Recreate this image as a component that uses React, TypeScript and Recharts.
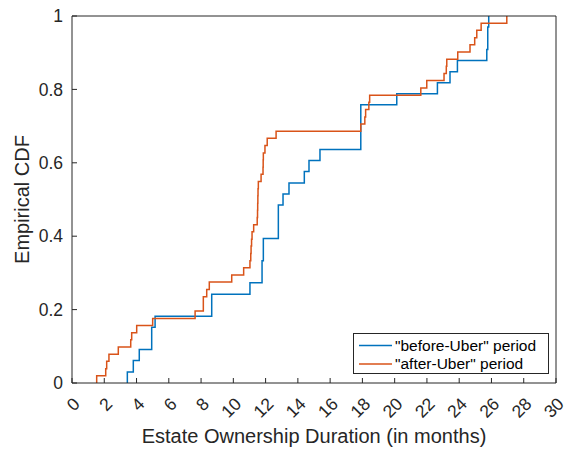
import React from "react";
import { LineChart, Line, XAxis, YAxis, Legend } from "recharts";

const INK = "#262626";
const FONT = "'Liberation Sans', Arial, Helvetica, sans-serif";
const BLUE = "#0072BD";
const ORANGE = "#D95319";

const X_TICKS = [0, 2, 4, 6, 8, 10, 12, 14, 16, 18, 20, 22, 24, 26, 28, 30];
const Y_TICKS = [0, 0.2, 0.4, 0.6, 0.8, 1];
const Y_TICK_LABELS = ["0", "0.2", "0.4", "0.6", "0.8", "1"];

// jump locations (months) and the CDF level reached at each jump
const BEFORE_X = [
  3.43, 3.8, 4.17, 4.94, 5.15, 8.66, 11.03, 11.78, 11.86, 12.79, 13.08, 13.45,
  14.4, 14.69, 15.37, 17.9, 20.13, 22.65, 23.43, 23.89, 25.71, 25.77, 25.83,
];
const BEFORE_CDF = [
  0.03, 0.061, 0.091, 0.152, 0.182, 0.242, 0.273, 0.333, 0.394, 0.485, 0.515, 0.545,
  0.576, 0.606, 0.636, 0.758, 0.788, 0.818, 0.848, 0.879, 0.909, 0.97, 1,
];

const AFTER_X = [
  1.53, 2.09, 2.15, 2.29, 2.87, 3.64, 3.7, 4.01, 5.0, 7.63, 8.14, 8.35, 8.51,
  9.9, 10.64, 11.03, 11.08, 11.1, 11.13, 11.16, 11.26, 11.48, 11.5, 11.51, 11.52,
  11.53, 11.55, 11.72, 11.84, 11.85, 11.86, 11.96, 12.1, 12.65, 17.9, 18.15, 18.2,
  18.4, 18.45, 21.62, 21.99, 23.06, 23.2, 23.23, 23.91, 24.67, 24.96, 25.09, 25.36,
  26.95,
];
const AFTER_CDF = [
  0.02, 0.039, 0.059, 0.078, 0.098, 0.118, 0.137, 0.157, 0.176, 0.196, 0.235, 0.255,
  0.275, 0.294, 0.314, 0.333, 0.353, 0.373, 0.392, 0.412, 0.431, 0.451, 0.471, 0.49,
  0.51, 0.529, 0.549, 0.569, 0.588, 0.608, 0.627, 0.647, 0.667, 0.686, 0.706, 0.725,
  0.745, 0.765, 0.784, 0.804, 0.824, 0.843, 0.863, 0.882, 0.902, 0.922, 0.941, 0.961,
  0.98, 1,
];

const SERIES_NAMES = ['"before-Uber" period', '"after-Uber" period'];

// ecdf-style stairs: start from zero at the first jump
function toSteps(xs: number[], ys: number[]) {
  return [{ x: xs[0], y: 0 }, ...xs.map((x, i) => ({ x, y: ys[i] }))];
}

const beforeData = toSteps(BEFORE_X, BEFORE_CDF);
const afterData = toSteps(AFTER_X, AFTER_CDF);

const TICK_LEN = 5;

function BottomTick({ x, y, payload }: any) {
  const tx = x + 9;
  const ty = y + 22;
  return (
    <g>
      <line x1={x} y1={y} x2={x} y2={y - TICK_LEN} stroke={INK} />
      <text
        x={tx}
        y={ty}
        textAnchor="end"
        transform={`rotate(-45, ${tx}, ${ty})`}
        fill={INK}
        fontSize={17.5}
        fontFamily={FONT}
      >
        {payload.value}
      </text>
    </g>
  );
}

function TopTick({ x, y }: any) {
  return <line x1={x} y1={y} x2={x} y2={y + TICK_LEN} stroke={INK} />;
}

function LeftTick({ x, y, payload }: any) {
  const idx = Y_TICKS.indexOf(payload.value);
  return (
    <g>
      <line x1={x} y1={y} x2={x + TICK_LEN} y2={y} stroke={INK} />
      <text
        x={x - 9}
        y={y}
        dy="0.35em"
        textAnchor="end"
        fill={INK}
        fontSize={17.5}
        fontFamily={FONT}
      >
        {Y_TICK_LABELS[idx]}
      </text>
    </g>
  );
}

function RightTick({ x, y }: any) {
  return <line x1={x} y1={y} x2={x - TICK_LEN} y2={y} stroke={INK} />;
}

function XLabel(props: any) {
  const { x, y, width } = props.viewBox;
  return (
    <text x={x + width / 2} y={y + 60} textAnchor="middle" fill={INK} fontSize={20} fontFamily={FONT}>
      Estate Ownership Duration (in months)
    </text>
  );
}

function YLabel(props: any) {
  const { y, height } = props.viewBox;
  const cx = 22;
  const cy = y + height / 2;
  return (
    <text
      x={cx}
      y={cy}
      dy="0.35em"
      textAnchor="middle"
      transform={`rotate(-90, ${cx}, ${cy})`}
      fill={INK}
      fontSize={20}
      fontFamily={FONT}
    >
      Empirical CDF
    </text>
  );
}

function LegendBox() {
  const rows = [
    { name: SERIES_NAMES[0], color: BLUE },
    { name: SERIES_NAMES[1], color: ORANGE },
  ];
  return (
    <svg width={196} height={41} style={{ display: "block" }}>
      <rect x={0.5} y={0.5} width={195} height={40} fill="#fff" stroke={INK} />
      {rows.map((r, i) => (
        <g key={r.name}>
          <line x1={6} x2={39} y1={12.5 + i * 18.5} y2={12.5 + i * 18.5} stroke={r.color} strokeWidth={1.5} />
          <text x={42} y={12.5 + i * 18.5} dy="0.35em" fill="#000" fontSize={15.5} fontFamily={FONT}>
            {r.name}
          </text>
        </g>
      ))}
    </svg>
  );
}

export default function App() {
  return (
    <div style={{ position: "absolute", left: 0, top: 0, background: "#fff" }}>
      <LineChart width={568} height={449} margin={{ top: 0, right: 0, bottom: 0, left: 0 }}>
        <XAxis
          type="number"
          dataKey="x"
          domain={[0, 30]}
          ticks={X_TICKS}
          interval={0}
          height={66}
          tickSize={0}
          tickMargin={0}
          tickLine={false}
          axisLine={{ stroke: INK }}
          tick={<BottomTick />}
          label={XLabel}
          allowDataOverflow
        />
        <XAxis
          xAxisId="top"
          orientation="top"
          type="number"
          domain={[0, 30]}
          ticks={X_TICKS}
          interval={0}
          height={16}
          tickSize={0}
          tickMargin={0}
          tickLine={false}
          axisLine={{ stroke: INK }}
          tick={<TopTick />}
        />
        <YAxis
          type="number"
          domain={[0, 1]}
          ticks={Y_TICKS}
          interval={0}
          width={72}
          tickSize={0}
          tickMargin={0}
          tickLine={false}
          axisLine={{ stroke: INK }}
          tick={<LeftTick />}
          label={YLabel}
          allowDataOverflow
        />
        <YAxis
          yAxisId="right"
          orientation="right"
          type="number"
          domain={[0, 1]}
          ticks={Y_TICKS}
          interval={0}
          width={12}
          tickSize={0}
          tickMargin={0}
          tickLine={false}
          axisLine={{ stroke: INK }}
          tick={<RightTick />}
        />
        <Line
          data={beforeData}
          dataKey="y"
          type="stepAfter"
          stroke={BLUE}
          strokeWidth={1.5}
          dot={false}
          isAnimationActive={false}
          name={SERIES_NAMES[0]}
        />
        <Line
          data={afterData}
          dataKey="y"
          type="stepAfter"
          stroke={ORANGE}
          strokeWidth={1.5}
          dot={false}
          isAnimationActive={false}
          name={SERIES_NAMES[1]}
        />
        <Legend
          layout="vertical"
          align="center"
          verticalAlign="middle"
          content={<LegendBox />}
          wrapperStyle={{ left: 353, top: 333, width: 196, height: 41 }}
        />
      </LineChart>
    </div>
  );
}
